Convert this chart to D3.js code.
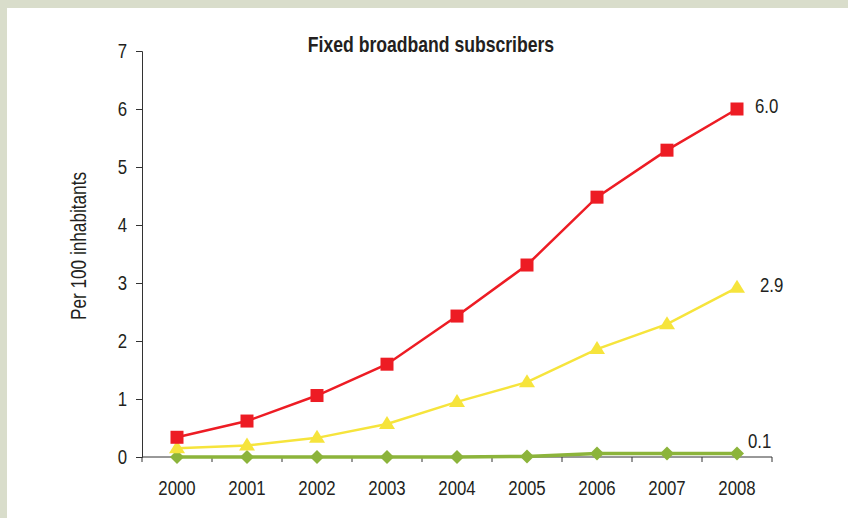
<!DOCTYPE html>
<html>
<head>
<meta charset="utf-8">
<script src="https://cdn.jsdelivr.net/npm/d3@7"></script>
<style>
  body { margin: 0; background: #d9ddcb; }
  svg { display: block; font-family: "Liberation Sans", Arial, sans-serif; }
</style>
</head>
<body>
<svg id="chart" width="848" height="518"></svg>
<script>
var years = ["2000", "2001", "2002", "2003", "2004", "2005", "2006", "2007", "2008"];
var redVals = [0.34, 0.62, 1.06, 1.6, 2.43, 3.31, 4.48, 5.29, 6.0];
var yellowVals = [0.15, 0.2, 0.33, 0.57, 0.95, 1.29, 1.86, 2.29, 2.92];
var greenVals = [0, 0, 0, 0, 0, 0.01, 0.06, 0.06, 0.06];
var yTicks = [0, 1, 2, 3, 4, 5, 6, 7];
var endLabels = ["6.0", "2.9", "0.1"];

var svg = d3.select("#chart");
var squeeze = 0.8;   // fake a condensed face

// white panel inside the grey frame
svg.append("rect")
    .attr("x", 7).attr("y", 8)
    .attr("width", 841).attr("height", 510)
    .style("fill", "#ffffff");

var margin = {top: 51, left: 142},
    width = 630,
    height = 406;

var g = svg.append("g")
    .attr("transform", "translate(" + margin.left + "," + margin.top + ")");

var x = d3.scaleBand().domain(years).range([0, width]);
var y = d3.scaleLinear().domain([0, 7]).range([height, 0]);

function cx(i) { return x(years[i]) + x.bandwidth() / 2; }

// condensed-looking text helper
function narrow(sel, px, py, size, anchor, rot) {
    return sel
        .attr("transform", function(d, i) {
            var tx = typeof px == "function" ? px(d, i) : px;
            var ty = typeof py == "function" ? py(d, i) : py;
            return "translate(" + tx + "," + ty + ")" + (rot ? " rotate(" + rot + ")" : "") +
                " scale(" + squeeze + ",1)";
        })
        .style("font-size", size + "px")
        .style("text-anchor", anchor)
        .style("fill", "#231f20");
}

// x axis: ticks sit between categories
var xAxis = g.append("g")
    .attr("transform", "translate(0," + height + ")");
xAxis.append("line")
    .attr("x1", 0).attr("x2", width)
    .style("stroke", "#333").style("stroke-width", 1);
xAxis.selectAll(".tk")
    .data(d3.range(years.length + 1))
    .enter().append("line")
    .attr("x1", function(i) { return i * x.step(); })
    .attr("x2", function(i) { return i * x.step(); })
    .attr("y1", 0).attr("y2", 5)
    .style("stroke", "#333");
narrow(xAxis.selectAll("text").data(years).enter().append("text"),
    function(d) { return x(d) + x.bandwidth() / 2; }, 38, 21, "middle")
    .text(function(d) { return d; });

// y axis
var yAxis = g.append("g")
    .call(d3.axisLeft(y).tickValues(yTicks).tickSize(6).tickFormat(""));
yAxis.select(".domain").style("stroke", "#333");
yAxis.selectAll(".tick line").style("stroke", "#333");
narrow(g.append("g").selectAll("text").data(yTicks).enter().append("text"),
    -15, function(d) { return y(d) + 7; }, 21, "end")
    .text(function(d) { return d; });

// title and axis label
narrow(svg.append("text"), 431, 52, 22, "middle")
    .style("font-weight", "bold")
    .text("Fixed broadband subscribers");

narrow(svg.append("text"), 86, 246, 21.5, "middle", -90)
    .text("Per 100 inhabitants");

var line = d3.line()
    .x(function(d, i) { return cx(i); })
    .y(function(d) { return y(d); });

// green series (drawn first, underneath)
g.append("path").datum(greenVals)
    .attr("d", line)
    .style("fill", "none").style("stroke", "#8cb43b").style("stroke-width", 3.5);
g.selectAll(".gm").data(greenVals).enter().append("path")
    .attr("transform", function(d, i) { return "translate(" + cx(i) + "," + y(d) + ")"; })
    .attr("d", "M0,-7L7,0L0,7L-7,0Z")
    .style("fill", "#8cb43b");

// yellow series
g.append("path").datum(yellowVals)
    .attr("d", line)
    .style("fill", "none").style("stroke", "#f6e43c").style("stroke-width", 2.5);
g.selectAll(".ym").data(yellowVals).enter().append("path")
    .attr("transform", function(d, i) { return "translate(" + cx(i) + "," + y(d) + ")"; })
    .attr("d", "M0,-8L8,5L-8,5Z")
    .style("fill", "#f6e43c");

// red series
g.append("path").datum(redVals)
    .attr("d", line)
    .style("fill", "none").style("stroke", "#ed1c24").style("stroke-width", 2.5);
g.selectAll(".rm").data(redVals).enter().append("rect")
    .attr("x", function(d, i) { return cx(i) - 6.5; })
    .attr("y", function(d) { return y(d) - 6.5; })
    .attr("width", 13).attr("height", 13)
    .style("fill", "#ed1c24");

// end value labels
var lastVals = [redVals[8], yellowVals[8], greenVals[8]];
var labDx = [18, 23, 11];
var labDy = [4, 4, -6];
narrow(g.selectAll(".endlab").data(endLabels).enter().append("text"),
    function(d, i) { return cx(8) + labDx[i]; },
    function(d, i) { return y(lastVals[i]) + labDy[i]; }, 21, "start")
    .text(function(d) { return d; });
</script>
</body>
</html>
